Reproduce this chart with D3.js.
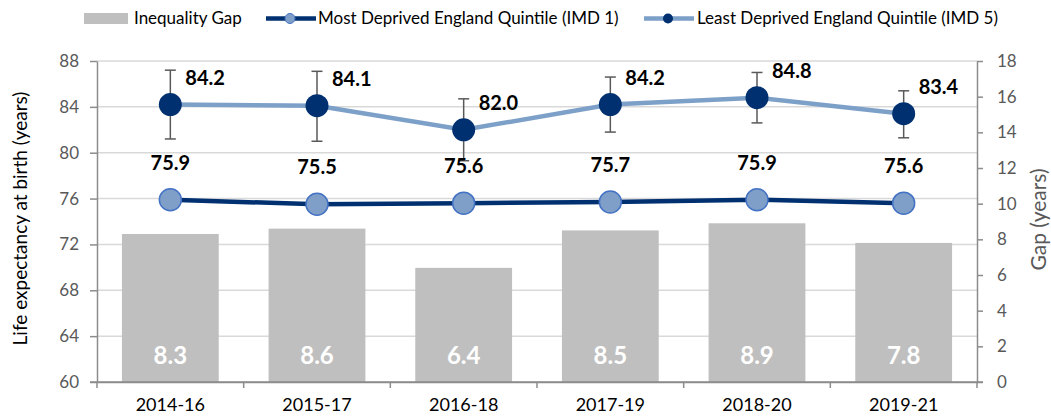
<!DOCTYPE html>
<html lang="en">
<head>
<meta charset="UTF-8">
<title>Life expectancy gap</title>
<script src="https://cdn.jsdelivr.net/npm/d3@7"></script>
<style>
  body { margin: 0; background: #fff; }
  svg { font-family: Lato, "Open Sans", sans-serif; }
</style>
</head>
<body>
<div id="chart"></div>
<script>
const periods = ["2014-16", "2015-17", "2016-18", "2017-19", "2018-20", "2019-21"];
const gap = [8.3, 8.6, 6.4, 8.5, 8.9, 7.8];
const imd1 = [75.9, 75.5, 75.6, 75.7, 75.9, 75.6];
const imd5 = [84.2, 84.1, 82.0, 84.2, 84.8, 83.4];
const imd5Lower = [81.2, 81.0, 79.3, 81.8, 82.6, 81.3];
const imd5Upper = [87.2, 87.1, 84.7, 86.6, 87.0, 85.4];
const leftTicks = [60, 64, 68, 72, 76, 80, 84, 88];
const rightTicks = [0, 2, 4, 6, 8, 10, 12, 14, 16, 18];

const width = 1051, height = 417;
const pLeft = 97, pRight = 977, pTop = 61, pBottom = 382;

const dark = "#003070", light = "#7da0c8";

const svg = d3.select("#chart").append("svg")
  .attr("width", width).attr("height", height);

const x = d3.scaleBand().domain(periods).range([pLeft, pRight])
  .paddingInner(0.34).paddingOuter(0.17);
const y = d3.scaleLinear().domain([60, 88]).range([pBottom, pTop]);
const y2 = d3.scaleLinear().domain([0, 18]).range([pBottom, pTop]);
const cx = p => x(p) + x.bandwidth() / 2;

// gridlines
svg.append("g").selectAll("line").data(leftTicks.slice(1)).enter().append("line")
  .attr("x1", pLeft).attr("x2", pRight)
  .attr("y1", d => y(d)).attr("y2", d => y(d))
  .attr("stroke", "#d9d9d9").attr("stroke-width", 1.5);

// bars
svg.append("g").selectAll("rect").data(periods).enter().append("rect")
  .attr("x", d => x(d)).attr("width", x.bandwidth())
  .attr("y", (d, i) => y2(gap[i])).attr("height", (d, i) => pBottom - y2(gap[i]))
  .attr("fill", "#bfbfbf");

svg.append("g").selectAll("text").data(periods).enter().append("text")
  .attr("x", d => cx(d)).attr("y", 356).attr("dy", "0.35em")
  .attr("text-anchor", "middle").attr("fill", "#fff")
  .attr("font-size", 24).attr("font-weight", "bold")
  .text((d, i) => gap[i].toFixed(1));

// axes
const axL = svg.append("g").attr("transform", `translate(${pLeft},0)`)
  .call(d3.axisLeft(y).tickValues(leftTicks).tickSize(7).tickPadding(11).tickSizeOuter(0));
const axR = svg.append("g").attr("transform", `translate(${pRight},0)`)
  .call(d3.axisRight(y2).tickValues(rightTicks).tickSize(6).tickPadding(14).tickSizeOuter(0));
const axB = svg.append("g").attr("transform", `translate(0,${pBottom})`)
  .call(d3.axisBottom(x).tickSize(0).tickPadding(16));
[axL, axR, axB].forEach(g => {
  g.select(".domain").attr("stroke", "#8c8c8c").attr("stroke-width", 1.5);
  g.selectAll(".tick line").attr("stroke", "#8c8c8c").attr("stroke-width", 1.5);
  g.selectAll("text").attr("font-size", 17).attr("fill", "#595959")
    .attr("font-family", "Lato, sans-serif");
});
axB.selectAll("text").attr("fill", "#000").attr("font-size", 18);
// between-category ticks and the side axes running below the baseline
const tickXs = [pLeft, ...periods.slice(1).map(p => x(p) - x.step() * x.paddingInner() / 2), pRight];
svg.append("g").selectAll("line").data(tickXs).enter().append("line")
  .attr("x1", d => d).attr("x2", d => d)
  .attr("y1", pBottom).attr("y2", pBottom + 6)
  .attr("stroke", "#8c8c8c").attr("stroke-width", 1.5);
svg.append("line").attr("x1", pLeft - 7).attr("x2", pRight + 6)
  .attr("y1", pBottom).attr("y2", pBottom).attr("stroke", "#8c8c8c").attr("stroke-width", 1.5);

// axis titles
svg.append("text").attr("transform", `translate(20,${(pTop + pBottom) / 2 - 3}) rotate(-90)`)
  .attr("text-anchor", "middle").attr("dy", "0.35em")
  .attr("font-size", 19).attr("fill", "#000")
  .text("Life expectancy at birth (years)");
svg.append("text").attr("transform", `translate(1039,${(pTop + pBottom) / 2 - 2}) rotate(-90)`)
  .attr("text-anchor", "middle").attr("dy", "0.35em")
  .attr("font-size", 21).attr("fill", "#595959")
  .text("Gap (years)");

// error bars on IMD 5
const eb = svg.append("g").attr("stroke", "#595959").attr("stroke-width", 1.5);
periods.forEach((p, i) => {
  eb.append("line").attr("x1", cx(p)).attr("x2", cx(p))
    .attr("y1", y(imd5Lower[i])).attr("y2", y(imd5Upper[i]));
  [imd5Lower[i], imd5Upper[i]].forEach(v => eb.append("line")
    .attr("x1", cx(p) - 5.5).attr("x2", cx(p) + 5.5)
    .attr("y1", y(v)).attr("y2", y(v)));
});

// lines
const line = d3.line().x((d, i) => cx(periods[i])).y(d => y(d));
svg.append("path").datum(imd5).attr("d", line)
  .attr("fill", "none").attr("stroke", light).attr("stroke-width", 4.5);
svg.append("path").datum(imd1).attr("d", line)
  .attr("fill", "none").attr("stroke", dark).attr("stroke-width", 4.5);

svg.append("g").selectAll("circle").data(imd5).enter().append("circle")
  .attr("cx", (d, i) => cx(periods[i])).attr("cy", d => y(d)).attr("r", 11.5)
  .attr("fill", dark);
svg.append("g").selectAll("circle").data(imd1).enter().append("circle")
  .attr("cx", (d, i) => cx(periods[i])).attr("cy", d => y(d)).attr("r", 11)
  .attr("fill", "#7f9fc8").attr("stroke", "#4472c4").attr("stroke-width", 1.5);

// data labels
svg.append("g").selectAll("text").data(imd5).enter().append("text")
  .attr("x", (d, i) => cx(periods[i]) + 15).attr("y", d => y(d) - 27).attr("dy", "0.35em")
  .attr("font-size", 20).attr("font-weight", "bold").attr("fill", "#000")
  .text(d => d.toFixed(1));
svg.append("g").selectAll("text").data(imd1).enter().append("text")
  .attr("x", (d, i) => cx(periods[i])).attr("y", d => y(d) - 37).attr("dy", "0.35em")
  .attr("text-anchor", "middle")
  .attr("font-size", 20).attr("font-weight", "bold").attr("fill", "#000")
  .text(d => d.toFixed(1));

// legend
const lg = svg.append("g").attr("font-size", 17).attr("fill", "#000");
lg.append("rect").attr("x", 84).attr("y", 13).attr("width", 44).attr("height", 11).attr("fill", "#bfbfbf");
lg.append("text").attr("x", 134).attr("y", 18.5).attr("dy", "0.35em").text("Inequality Gap");
lg.append("line").attr("x1", 266).attr("x2", 316).attr("y1", 18.5).attr("y2", 18.5)
  .attr("stroke", dark).attr("stroke-width", 4.5);
lg.append("circle").attr("cx", 290).attr("cy", 18.5).attr("r", 5)
  .attr("fill", "#7f9fc8").attr("stroke", "#4472c4");
lg.append("text").attr("x", 318).attr("y", 18.5).attr("dy", "0.35em").text("Most Deprived England Quintile (IMD 1)");
lg.append("line").attr("x1", 644).attr("x2", 694).attr("y1", 18.5).attr("y2", 18.5)
  .attr("stroke", light).attr("stroke-width", 4.5);
lg.append("circle").attr("cx", 668).attr("cy", 18.5).attr("r", 5).attr("fill", dark);
lg.append("text").attr("x", 697).attr("y", 18.5).attr("dy", "0.35em").text("Least Deprived England Quintile (IMD 5)");
</script>
</body>
</html>
